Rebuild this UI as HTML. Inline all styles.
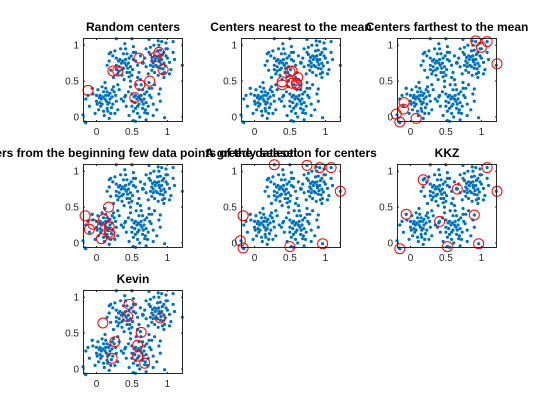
<!DOCTYPE html>
<html><head><meta charset="utf-8"><style>
html,body{margin:0;padding:0;background:#fff;}
svg{display:block;font-family:"Liberation Sans",Arial,sans-serif;}
</style></head><body>
<svg id="fig" width="560" height="420" viewBox="0 0 560 420"></svg>
<script>
// shared scatter data (x values, y values)
const dataX = [
0.12,0.05,0.18,0.10,0.22,0.00,0.15,0.08,0.25,-0.05,0.13,0.20,0.03,0.28,0.17,0.07,-0.10,0.30,0.11,0.24,0.02,0.16,0.09,0.19,-0.02,0.14,0.06,0.27,0.21,0.04,-0.12,0.32,0.12,0.18,0.10,0.23,0.01,0.15,0.08,0.26,-0.15,0.35,0.13,0.19,0.05,0.16,0.22,0.00,-0.06,0.30,
0.62,0.55,0.70,0.60,0.75,0.50,0.65,0.58,0.78,0.45,0.63,0.72,0.52,0.80,0.68,0.57,0.42,0.85,0.61,0.74,0.48,0.66,0.59,0.71,0.46,0.64,0.55,0.77,0.69,0.53,0.40,0.88,0.62,0.70,0.58,0.73,0.50,0.65,0.56,0.80,0.38,0.90,0.63,0.67,0.54,0.68,0.74,0.50,0.82,0.60,
0.40,0.33,0.48,0.38,0.52,0.28,0.43,0.36,0.55,0.23,0.41,0.50,0.30,0.58,0.46,0.35,0.20,0.60,0.39,0.52,0.26,0.44,0.37,0.49,0.24,0.42,0.32,0.55,0.47,0.31,0.18,0.62,0.40,0.48,0.36,0.51,0.28,0.43,0.34,0.58,0.15,0.65,0.41,0.45,0.32,0.46,0.52,0.28,0.20,0.38,
0.88,0.82,0.95,0.86,0.98,0.78,0.90,0.84,1.00,0.74,0.88,0.96,0.78,1.03,0.93,0.83,0.70,1.05,0.87,0.98,0.76,0.91,0.85,0.95,0.73,0.89,0.80,1.00,0.94,0.79,0.68,1.08,0.87,0.95,0.82,0.97,0.76,0.90,0.81,1.03,0.65,1.10,0.88,0.92,0.80,0.93,0.98,0.76,0.70,0.86,
-0.19,1.21,0.50,0.55,-0.16,0.92,1.08,0.28,0.74,0.96,0.18,-0.06,0.41,0.90,0.52,-0.15,0.66
];
const dataY = [
0.25,0.30,0.20,0.35,0.28,0.22,0.12,0.18,0.35,0.32,0.40,0.05,0.10,0.22,0.30,0.25,0.15,0.10,0.02,0.42,0.38,0.18,0.28,0.33,0.05,0.22,0.15,0.30,0.13,0.27,0.30,0.38,0.48,-0.02,0.08,0.18,0.18,0.35,0.42,0.05,0.25,0.25,0.30,0.25,0.20,0.08,0.38,0.30,0.40,0.45,
0.25,0.30,0.20,0.38,0.30,0.22,0.12,0.15,0.40,0.35,0.45,0.05,0.08,0.18,0.32,0.25,0.15,0.10,0.00,0.48,0.42,0.18,0.28,0.35,0.02,0.22,0.12,0.27,0.10,0.28,0.28,0.32,0.52,-0.04,0.05,0.15,0.15,0.38,0.45,0.02,0.22,0.22,0.30,0.25,0.20,0.06,0.40,0.32,0.45,0.18,
0.75,0.80,0.70,0.88,0.80,0.72,0.62,0.66,0.90,0.85,0.95,0.58,0.60,0.72,0.82,0.75,0.65,0.62,0.52,0.98,0.92,0.68,0.78,0.85,0.55,0.72,0.64,0.78,0.62,0.78,0.78,0.85,1.02,0.50,0.58,0.66,0.66,0.88,0.95,0.55,0.72,0.75,0.80,0.75,0.70,0.56,0.90,0.82,0.90,0.68,
0.80,0.85,0.75,0.92,0.85,0.78,0.68,0.72,0.95,0.90,1.00,0.62,0.65,0.76,0.87,0.80,0.70,0.66,0.58,1.03,0.97,0.73,0.84,0.90,0.60,0.77,0.70,0.82,0.67,0.83,0.82,0.90,1.06,0.55,0.62,0.71,0.72,0.93,1.00,0.60,0.76,0.80,0.85,0.80,0.75,0.60,0.95,0.87,0.95,0.70,
0.03,0.72,1.09,-0.06,-0.07,1.05,1.05,1.09,1.08,-0.01,0.88,0.40,0.30,0.39,-0.05,-0.08,0.75
];
// subplot titles and chosen centers
const titles = ["Random centers","Centers nearest to the mean","Centers farthest to the mean",
 "Centers from the beginning few data points of the dataset","A greedy selection for centers","KKZ","Kevin"];
const cx1=[-0.12,0.23,0.30,0.60,0.84,0.88,0.94,0.75,0.61,0.54];
const cy1=[0.37,0.64,0.64,0.82,0.84,0.90,0.66,0.50,0.45,0.27];
const cx2=[0.50,0.53,0.61,0.39,0.39,0.53,0.60,0.59];
const cy2=[0.63,0.64,0.55,0.49,0.45,0.47,0.45,0.47];
const cx3=[-0.09,-0.10,-0.20,-0.15,0.08,0.92,1.08,1.00,1.22];
const cy3=[0.20,0.11,0.04,-0.07,-0.02,1.06,1.05,0.97,0.74];
const cx4=[-0.16,0.17,0.10,-0.05,-0.10,0.18,0.18,0.19,0.07];
const cy4=[0.38,0.50,0.33,0.26,0.19,0.23,0.15,0.12,0.06];
const cx5=[-0.16,-0.20,-0.16,0.28,0.50,0.74,0.92,1.08,1.21,0.96];
const cy5=[0.38,0.03,-0.07,1.09,-0.05,1.08,1.05,1.05,0.72,-0.01];
const cx6=[0.18,0.66,-0.06,0.41,0.90,-0.15,0.52,0.96,1.08,1.22];
const cy6=[0.88,0.75,0.40,0.30,0.39,-0.08,-0.05,-0.01,1.05,0.72];
const cx7=[0.46,0.44,0.09,0.90,0.63,0.26,0.58,0.58,0.22,0.68];
const cy7=[0.90,0.73,0.64,0.71,0.51,0.38,0.33,0.18,0.15,0.08];
const centersX=[cx1,cx2,cx3,cx4,cx5,cx6,cx7];
const centersY=[cy1,cy2,cy3,cy4,cy5,cy6,cy7];
const xTicks=[0,0.5,1], xTickLabels=["0","0.5","1"];
const yTicks=[0,0.5,1], yTickLabels=["0","0.5","1"];

const XMIN=-0.19,XMAX=1.22,YMIN=-0.07,YMAX=1.10;
const colLeft=[83,241,397], rowTop=[38,164,290], W=100, H=84;
const NS="http://www.w3.org/2000/svg";
const fig=document.getElementById('fig');
function mk(tag,attrs,parent){const e=document.createElementNS(NS,tag);for(const k in attrs)e.setAttribute(k,attrs[k]);parent.appendChild(e);return e;}

titles.forEach((t,i)=>{
  const L=colLeft[i%3], T=rowTop[Math.floor(i/3)];
  const sx=v=>L+(v-XMIN)/(XMAX-XMIN)*W;
  const sy=v=>T+H-(v-YMIN)/(YMAX-YMIN)*H;
  const g=mk('g',{},fig);
  
  
  const bg=mk('rect',{x:L,y:T,width:W,height:H,fill:'#fff'},g);
  
  
  const pts=mk('g',{fill:'#0072BD'},g);
  
  
  for(let k=0;k<dataX.length;k++){
    const c=mk('circle',{cx:sx(dataX[k]).toFixed(1),cy:sy(dataY[k]).toFixed(1),r:1.6},pts);
    
    
  }
  const cs=mk('g',{fill:'none',stroke:'#FF0000','stroke-width':1},g);
  
  
  centersX[i].forEach((x,k)=>{
    const c=mk('circle',{cx:sx(x).toFixed(1),cy:sy(centersY[i][k]).toFixed(1),r:5},cs);
    
    
  });
  const box=mk('rect',{x:L+0.5,y:T+0.5,width:W-1,height:H-1,fill:'none',stroke:'#262626','stroke-width':1},g);
  
  
  xTicks.forEach((v,k)=>{
    const x=sx(v);
    mk('line',{x1:x,y1:T+H,x2:x,y2:T+H-2,stroke:'#262626'},g);
    mk('line',{x1:x,y1:T,x2:x,y2:T+2,stroke:'#262626'},g);
    const tx=mk('text',{x:x,y:T+H+13,'text-anchor':'middle','font-size':10,fill:'#262626'},g);
    tx.textContent=xTickLabels[k];
    
    
  });
  yTicks.forEach((v,k)=>{
    const y=sy(v);
    mk('line',{x1:L,y1:y,x2:L+2,y2:y,stroke:'#262626'},g);
    mk('line',{x1:L+W,y1:y,x2:L+W-2,y2:y,stroke:'#262626'},g);
    const ty=mk('text',{x:L-4,y:y+3.5,'text-anchor':'end','font-size':10,fill:'#262626'},g);
    ty.textContent=yTickLabels[k];
    
    
  });
  const tt=mk('text',{x:L+W/2,y:T-7,'text-anchor':'middle','font-size':12,'font-weight':'bold',fill:'#000'},g);
  tt.textContent=t;
  
  
});
</script>
</body></html>
